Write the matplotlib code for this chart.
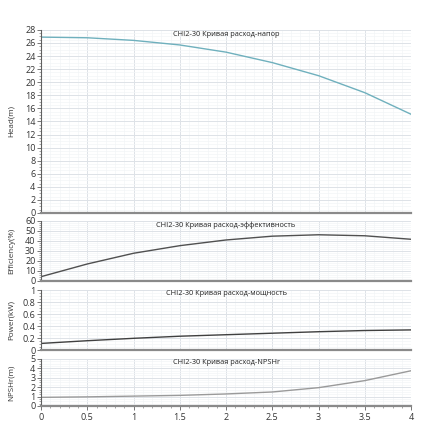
import numpy as np
import matplotlib
matplotlib.use('Agg')
import matplotlib.pyplot as plt
from matplotlib.ticker import MultipleLocator, FormatStrFormatter

plt.rcParams['font.family'] = ['Open Sans', 'DejaVu Sans']

flow = [0, 0.5, 1.0, 1.5, 2.0, 2.5, 3.0, 3.5, 4.0]
head = [26.9, 26.8, 26.4, 25.7, 24.6, 23.0, 21.0, 18.4, 15.1]
efficiency = [4.3, 17.0, 27.7, 35.3, 41.0, 44.8, 46.2, 45.2, 41.7]
power = [0.11, 0.155, 0.195, 0.23, 0.255, 0.28, 0.305, 0.325, 0.335]
npsh = [0.92, 0.97, 1.05, 1.13, 1.28, 1.49, 1.95, 2.7, 3.75]

panels = [
    # (values, ylabel, title, ymax, major, minor, colour, rect)
    (head, 'Head(m)', 'CHI2-30 Кривая расход-напор', 28, 2, 0.5, '#6fb0bd',
     [0.0932, 0.516, 0.841, 0.416]),
    (efficiency, 'Efficiency(%)', 'CHI2-30 Кривая расход-эффективность', 60, 10, 2, '#505050',
     [0.0932, 0.3614, 0.841, 0.1364]),
    (power, 'Power(kW)', 'CHI2-30 Кривая расход-мощность', 1, 0.2, 0.05, '#404040',
     [0.0932, 0.2045, 0.841, 0.1364]),
    (npsh, 'NPSHr(m)', 'CHI2-30 Кривая расход-NPSHr', 5, 1, 0.25, '#9a9a9a',
     [0.0932, 0.0773, 0.841, 0.1068]),
]

fig = plt.figure(figsize=(4.4, 4.4), dpi=100)

for i, (vals, ylab, title, ymax, major, minor, col, rect) in enumerate(panels):
    ax = fig.add_axes(rect)
    ax.plot(flow, vals, color=col, lw=1.0)
    ax.set_xlim(0, 4)
    ax.set_ylim(0, ymax)
    ax.yaxis.set_major_locator(MultipleLocator(major))
    ax.yaxis.set_minor_locator(MultipleLocator(minor))
    ax.yaxis.set_major_formatter(FormatStrFormatter('%g'))
    ax.xaxis.set_major_locator(MultipleLocator(0.5))
    ax.xaxis.set_minor_locator(MultipleLocator(0.1))
    ax.xaxis.set_major_formatter(FormatStrFormatter('%g'))
    ax.grid(which='major', color='#dde2e7', lw=0.7)
    ax.grid(which='minor', color='#f3f5f7', lw=0.5)
    ax.set_axisbelow(True)
    for s in ['top', 'right']:
        ax.spines[s].set_visible(False)
    ax.spines['left'].set_color('#606060')
    ax.spines['left'].set_linewidth(0.8)
    ax.spines['bottom'].set_color('#8a8a8a')
    ax.spines['bottom'].set_linewidth(1.6)
    ax.tick_params(axis='y', which='major', labelsize=6.5, length=3, width=0.6,
                   color='#606060', labelcolor='#333333', pad=1)
    ax.tick_params(axis='y', which='minor', length=1.5, width=0.4, color='#606060')
    if i < 3:
        ax.tick_params(axis='x', which='both', bottom=False, labelbottom=False)
    else:
        ax.tick_params(axis='x', which='major', labelsize=6.5, length=3, width=0.6,
                       color='#606060', labelcolor='#333333', pad=2)
        ax.tick_params(axis='x', which='minor', length=1.5, width=0.4, color='#606060')
    ax.set_ylabel(ylab, fontsize=5.8, color='#333333')
    ax.yaxis.set_label_coords(-0.07, 0.5)
    ax.text(0.5, 0.995, title, transform=ax.transAxes, ha='center', va='top',
            fontsize=5.3, color='#222222')

fig.savefig('out.png', dpi=100)
